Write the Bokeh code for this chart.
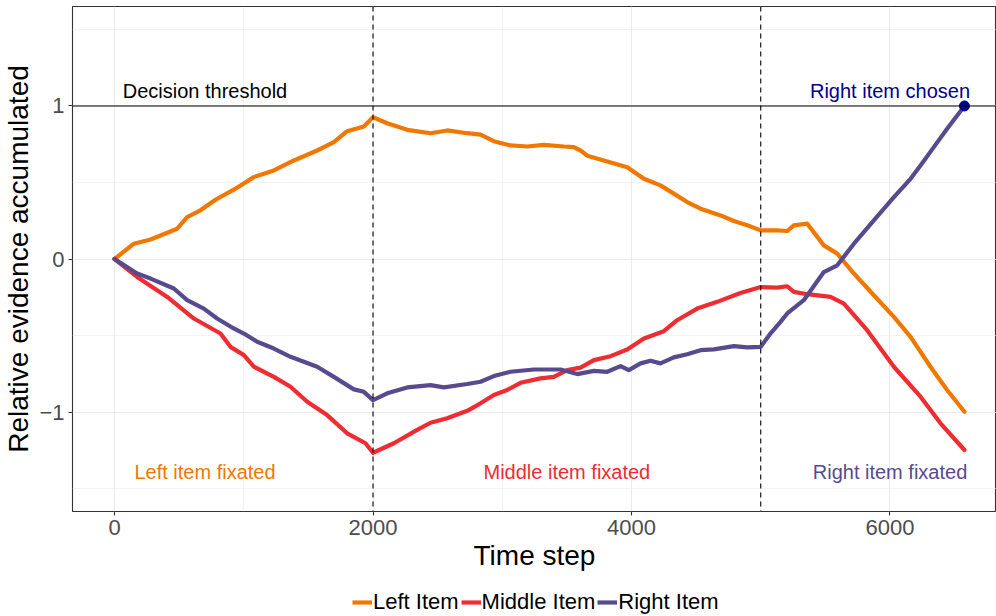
from bokeh.plotting import figure
from bokeh.layouts import column
from bokeh.models import Range1d, FixedTicker, Span, Legend, LegendItem
from bokeh.core.properties import value
from bokeh.embed import file_html
from bokeh.resources import INLINE

# Accumulated relative evidence for each item over time steps
left_t = [0, 150, 279, 485, 562, 665, 781, 923, 1078, 1233, 1388, 1568, 1697, 1800, 1929, 2000,
          2110, 2265, 2445, 2574, 2729, 2832, 2935, 3064, 3193, 3322, 3477, 3554, 3606, 3657, 3786,
          3967, 4096, 4224, 4327, 4431, 4534, 4689, 4792, 4895, 5000, 5127, 5205, 5256, 5360, 5488,
          5592, 5721, 5875, 6030, 6159, 6313, 6442, 6576]
left_v = [0, 0.10, 0.127, 0.198, 0.274, 0.318, 0.387, 0.453, 0.535, 0.579, 0.644, 0.709, 0.763,
          0.835, 0.866, 0.926, 0.887, 0.844, 0.822, 0.840, 0.822, 0.813, 0.770, 0.742, 0.735, 0.746,
          0.735, 0.731, 0.709, 0.675, 0.644, 0.600, 0.524, 0.481, 0.427, 0.372, 0.329, 0.285, 0.248,
          0.220, 0.187, 0.187, 0.183, 0.220, 0.231, 0.089, 0.035, -0.095, -0.237, -0.378, -0.509,
          -0.704, -0.856, -0.998]

middle_t = [0, 175, 408, 614, 820, 897, 1001, 1078, 1233, 1362, 1491, 1645, 1800, 1942, 2000,
            2161, 2342, 2445, 2574, 2729, 2832, 2935, 3038, 3141, 3296, 3399, 3502, 3606, 3709,
            3838, 3967, 4096, 4250, 4353, 4508, 4663, 4843, 5000, 5127, 5205, 5256, 5360, 5540,
            5643, 5823, 6030, 6236, 6391, 6576]
middle_v = [0, -0.117, -0.248, -0.389, -0.487, -0.574, -0.628, -0.704, -0.770, -0.835, -0.933,
            -1.020, -1.139, -1.204, -1.266, -1.204, -1.117, -1.070, -1.041, -0.992, -0.943, -0.889,
            -0.856, -0.809, -0.780, -0.770, -0.726, -0.710, -0.661, -0.635, -0.591, -0.519, -0.472,
            -0.400, -0.324, -0.280, -0.222, -0.183, -0.187, -0.178, -0.215, -0.230, -0.248, -0.291,
            -0.465, -0.704, -0.900, -1.074, -1.248]

right_t = [0, 175, 279, 459, 562, 691, 794, 923, 1001, 1104, 1233, 1362, 1568, 1697, 1852, 1929,
           2000, 2110, 2265, 2445, 2548, 2729, 2832, 2935, 3064, 3244, 3451, 3580, 3709, 3812, 3915,
           3979, 4070, 4147, 4224, 4327, 4431, 4534, 4637, 4792, 4895, 5000, 5075, 5153, 5205, 5333,
           5488, 5592, 5721, 5875, 6030, 6159, 6236, 6339, 6442, 6576]
right_v = [0, -0.095, -0.128, -0.193, -0.269, -0.324, -0.389, -0.454, -0.487, -0.541, -0.585,
           -0.639, -0.704, -0.770, -0.852, -0.868, -0.922, -0.878, -0.839, -0.824, -0.839, -0.817,
           -0.802, -0.765, -0.737, -0.722, -0.722, -0.752, -0.731, -0.737, -0.700, -0.726, -0.682,
           -0.665, -0.682, -0.643, -0.622, -0.596, -0.591, -0.569, -0.578, -0.574, -0.487, -0.411,
           -0.356, -0.269, -0.085, -0.041, 0.100, 0.252, 0.404, 0.524, 0.611, 0.731, 0.851, 1.0]

series_names = ["Left Item", "Middle Item", "Right Item"]
series_colors = ["#F07800", "#EE2C31", "#584A8E"]

threshold = 1.0
fixation_switches = [2000, 5000]
choice_t, choice_v = [6576], [1.0]

x_ticks = [0, 2000, 4000, 6000]
x_minor = [1000, 3000, 5000]
y_ticks = [-1, 0, 1]
y_minor = [-1.5, -0.5, 0.5, 1.5]
y_tick_labels = {-1: "\u22121", 0: "0", 1: "1"}

top_notes = ["Decision threshold", "Right item chosen"]
top_notes_t = [700, 6000]
top_notes_v = [1.096, 1.096]
top_notes_colors = ["#000000", "#00008B"]

bottom_notes = ["Left item fixated", "Middle item fixated", "Right item fixated"]
bottom_notes_t = [700, 3500, 6000]
bottom_notes_v = [-1.392, -1.392, -1.392]

FONT = "Liberation Sans"
series_t = [left_t, middle_t, right_t]
series_v = [left_v, middle_v, right_v]

p = figure(width=996, height=576, output_backend="svg", toolbar_location=None,
           x_range=Range1d(-325, 6824), y_range=Range1d(-1.65, 1.65),
           min_border_left=72, min_border_right=0, min_border_top=6, min_border_bottom=65)

p.background_fill_color = "white"
p.border_fill_color = "white"
p.outline_line_color = "#333333"
p.outline_line_width = 1.1

p.xaxis.ticker = FixedTicker(ticks=x_ticks, minor_ticks=x_minor)
p.yaxis.ticker = FixedTicker(ticks=y_ticks, minor_ticks=y_minor)
p.yaxis.major_label_overrides = y_tick_labels

for ax in (p.xaxis, p.yaxis):
    ax.axis_line_color = None
    ax.major_tick_line_color = "#333333"
    ax.major_tick_line_width = 1.1
    ax.major_tick_out = 4
    ax.major_tick_in = 0
    ax.minor_tick_line_color = None
    ax.major_label_text_font = FONT
    ax.major_label_text_font_size = "22px"
    ax.major_label_text_color = "#4D4D4D"
    ax.axis_label_text_font = FONT
    ax.axis_label_text_font_size = "28px"
    ax.axis_label_text_font_style = "normal"
    ax.axis_label_text_color = "black"

p.xaxis.axis_label = "Time step"
p.yaxis.axis_label = "Relative evidence accumulated"
p.xaxis.major_label_standoff = 4
p.xaxis.axis_label_standoff = 2
p.yaxis.major_label_standoff = 4
p.yaxis.axis_label_standoff = 2

for g in (p.xgrid, p.ygrid):
    g.grid_line_color = "#EBEBEB"
    g.grid_line_width = 1.1
    g.minor_grid_line_color = "#EBEBEB"
    g.minor_grid_line_width = 0.6

# threshold and fixation switch markers
p.add_layout(Span(location=threshold, dimension="width", line_color="black", line_width=1.1))
for s in fixation_switches:
    p.add_layout(Span(location=s, dimension="height", line_color="black", line_width=1.1,
                      line_dash="5 4"))

for ts, vs, col in zip(series_t, series_v, series_colors):
    p.line(ts, vs, line_color=col, line_width=4.2, line_join="round", line_cap="round")

p.scatter(choice_t, choice_v, size=10, color="#00008B")

p.text(top_notes_t, top_notes_v, text=top_notes, text_color=top_notes_colors,
       text_font=value(FONT), text_font_size="20px", text_align="center",
       text_baseline="alphabetic")
p.text(bottom_notes_t, bottom_notes_v, text=bottom_notes, text_color=series_colors,
       text_font=value(FONT), text_font_size="20px", text_align="center",
       text_baseline="alphabetic")

# legend strip below the chart; its ranges keep the key series out of view
leg = figure(width=996, height=40, output_backend="svg", toolbar_location=None,
             x_range=Range1d(-20, -10), y_range=Range1d(-20, -10),
             x_axis_type=None, y_axis_type=None, min_border=0)
leg.outline_line_color = None
leg.xgrid.visible = False
leg.ygrid.visible = False
keys = [leg.line(ts, vs, line_color=c, line_width=4.2)
        for ts, vs, c in zip(series_t, series_v, series_colors)]

legend = Legend(items=[LegendItem(label=n, renderers=[r]) for n, r in zip(series_names, keys)],
                orientation="horizontal", location=(280, 1))
legend.label_text_font = FONT
legend.label_text_font_size = "22px"
legend.label_text_color = "black"
legend.glyph_width = 20
legend.glyph_height = 22
legend.label_standoff = 1
legend.spacing = 2
legend.padding = 0
legend.margin = 0
legend.border_line_color = None
legend.background_fill_alpha = 0
leg.add_layout(legend, "center")

layout = column(p, leg, spacing=0)
open("out.html", "w").write(file_html(layout, INLINE))
